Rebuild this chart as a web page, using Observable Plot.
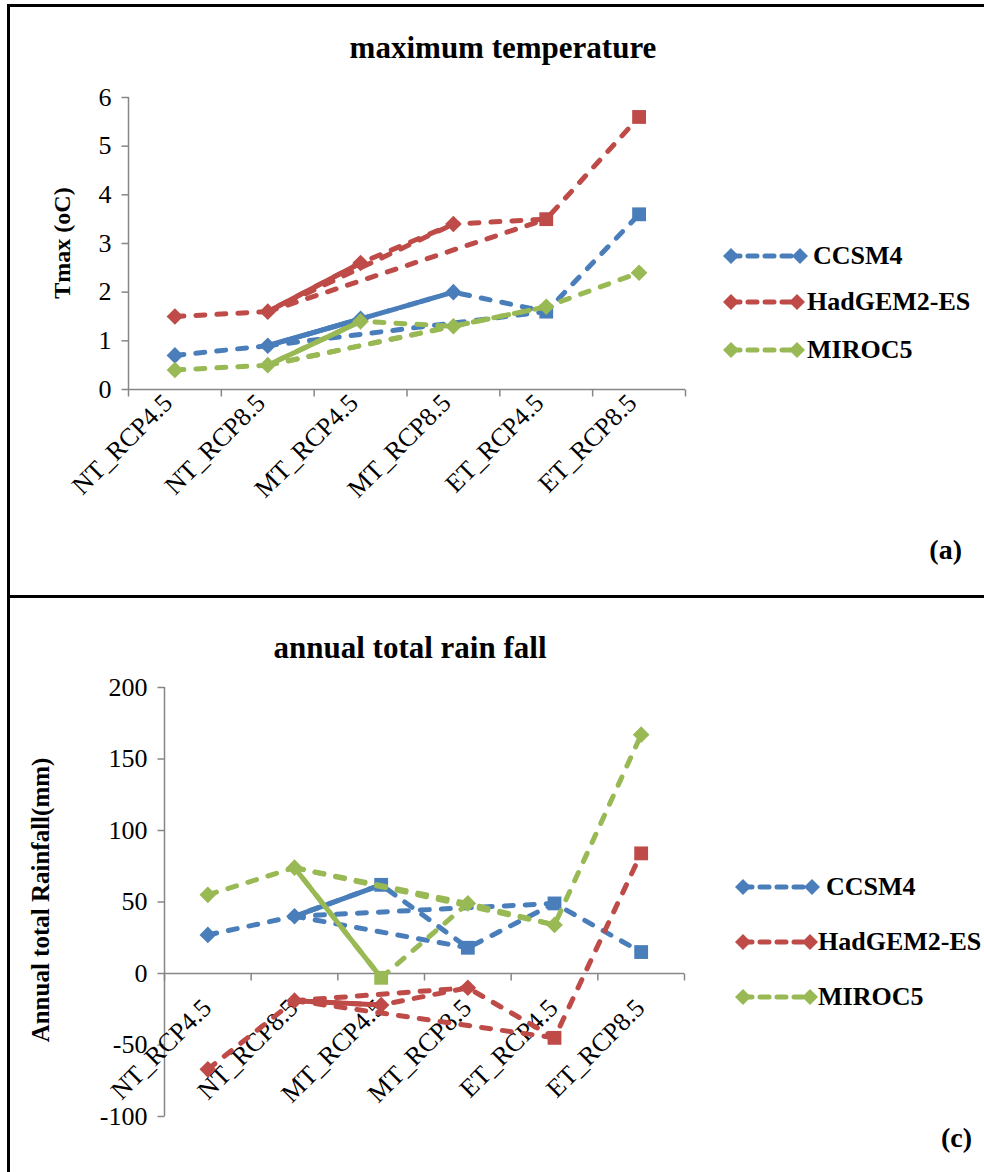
<!DOCTYPE html>
<html>
<head>
<meta charset="utf-8">
<script src="https://cdn.jsdelivr.net/npm/d3@7"></script>
<script src="https://cdn.jsdelivr.net/npm/@observablehq/plot@0.6"></script>
<style>
  body { margin: 0; background: #fff; }
  #fig { position: relative; width: 984px; height: 1172px; overflow: hidden; background: #fff;
         font-family: "Liberation Serif", "Times New Roman", serif; color: #000; }
  .abs { position: absolute; white-space: nowrap; }
  .line { position: absolute; background: #000; }
  .title { font-weight: bold; font-size: 31px; line-height: 1; transform: translate(-50%, -50%); }
  .ylab { font-weight: bold; line-height: 1; transform: translate(-50%, -50%) rotate(-90deg); }
  .legtext { font-weight: bold; font-size: 26px; line-height: 1; transform: translateY(-50%); }
  .panel { font-weight: bold; font-size: 28px; line-height: 1; transform: translate(-100%, -50%); }
  svg.plot { position: absolute; left: 0; }
</style>
</head>
<body>
<div id="fig"></div>
<script>
// ---------------- data ----------------
const categories = ["NT_RCP4.5", "NT_RCP8.5", "MT_RCP4.5", "MT_RCP8.5", "ET_RCP4.5", "ET_RCP8.5"];
const models = ["CCSM4", "HadGEM2-ES", "MIROC5"];
const modelColors = ["#4A7EBB", "#BE4B48", "#98B954"];

// (a) maximum temperature change (oC)
const tmaxCCSM4   = [0.7, 0.9, 1.45, 2.0, 1.6, 3.6];
const tmaxHadGEM2 = [1.5, 1.6, 2.6, 3.4, 3.5, 5.6];
const tmaxMIROC5  = [0.4, 0.5, 1.4, 1.3, 1.7, 2.4];
const tmaxTicks   = [0, 1, 2, 3, 4, 5, 6];

// (c) annual total rainfall change (mm)
const rainCCSM4   = [27, 40, 62, 18, 49, 15];
const rainHadGEM2 = [-67, -19, -22, -10, -45, 84];
const rainMIROC5  = [55, 74, -3, 49, 34, 167];
const rainTicks   = [-100, -50, 0, 50, 100, 150, 200];

// extra connector lines of each series, all starting at NT_RCP8.5
const linkFrom = 1;
const solidLinkTo = [2];
const dashedLinkTo = [3, 4];

// points drawn with a square marker instead of a diamond (category indices)
const tmaxSquares = [[4, 5], [4, 5], []];
const rainSquares = [[2, 3, 4, 5], [4, 5], [2]];

// ---------------- drawing ----------------
const gray = "#868686";
const dash = "9,12";
const lw = 5;

const diamondSym = {draw(ctx, size) { const r = Math.sqrt(size) * 0.62625; ctx.moveTo(0, -r); ctx.lineTo(r, 0); ctx.lineTo(0, r); ctx.lineTo(-r, 0); ctx.closePath(); }};
const squareSym = {draw(ctx, size) { const h = Math.sqrt(size) / 2; ctx.rect(-h, -h, 2 * h, 2 * h); }};
const xTickSym = {draw(ctx) { ctx.moveTo(0, 0); ctx.lineTo(0, 7); }};
const yTickSym = {draw(ctx) { ctx.moveTo(0, 0); ctx.lineTo(-7, 0); }};

function makeChart(cfg) {
  const {values, squares, yDomain, yTicks, height, margins, labelDx, labelDy} = cfg;
  const boundaries = categories.map((c, i) => i - 0.5).concat([categories.length - 0.5]);
  const labels = categories.map((c, i) => ({i, c}));
  const marks = [
    Plot.ruleY([0], {stroke: gray, strokeWidth: 1.5}),
    Plot.ruleX([-0.5], {stroke: gray, strokeWidth: 1.5}),
    Plot.dot(boundaries, {x: d => d, y: () => 0, symbol: xTickSym, fill: "none", stroke: gray, strokeWidth: 1.5}),
    Plot.dot(yTicks, {x: () => -0.5, y: d => d, symbol: yTickSym, fill: "none", stroke: gray, strokeWidth: 1.5}),
    Plot.text(yTicks, {x: () => -0.5, y: d => d, text: d => String(d), textAnchor: "end", dx: -17, fontSize: 26, fill: "black"}),
    Plot.text(labels, {x: "i", y: () => 0, text: "c", rotate: -45, textAnchor: "end", lineAnchor: "bottom", dx: labelDx, dy: labelDy, fontSize: 26, fill: "black"})
  ];
  values.forEach((vals, m) => {
    const color = modelColors[m];
    const rows = vals.map((v, i) => ({i, v}));
    const links = [
      ...dashedLinkTo.map(t => ({x1: linkFrom, y1: vals[linkFrom], x2: t, y2: vals[t], solid: false})),
      ...solidLinkTo.map(t => ({x1: linkFrom, y1: vals[linkFrom], x2: t, y2: vals[t], solid: true}))
    ];
    marks.push(
      Plot.line(rows, {x: "i", y: "v", stroke: color, strokeWidth: lw, strokeDasharray: dash, strokeLinecap: "round", strokeLinejoin: "round"}),
      Plot.link(links.filter(d => !d.solid), {x1: "x1", y1: "y1", x2: "x2", y2: "y2", stroke: color, strokeWidth: lw, strokeDasharray: dash, strokeLinecap: "round"}),
      Plot.link(links.filter(d => d.solid), {x1: "x1", y1: "y1", x2: "x2", y2: "y2", stroke: color, strokeWidth: lw, strokeLinecap: "round"}),
      Plot.dot(rows.filter(d => !squares[m].includes(d.i)), {x: "i", y: "v", symbol: diamondSym, r: 7.5, fill: color, stroke: "none"}),
      Plot.dot(rows.filter(d => squares[m].includes(d.i)), {x: "i", y: "v", symbol: squareSym, r: 7.8, fill: color, stroke: "none"})
    );
  });
  const svg = Plot.plot({
    width: 984, height,
    marginLeft: margins[0], marginRight: margins[1], marginTop: margins[2], marginBottom: margins[3],
    x: {domain: [-0.5, categories.length - 0.5], axis: null},
    y: {domain: yDomain, axis: null},
    style: {fontFamily: "'Liberation Serif', 'Times New Roman', serif", fontSize: "26px", color: "black", background: "transparent", overflow: "visible"},
    marks
  });
  svg.classList.add("plot");
  return svg;
}

const fig = document.getElementById("fig");
function add(cls, text, css) {
  const d = document.createElement("div");
  d.className = cls;
  if (text != null) d.textContent = text;
  Object.assign(d.style, css);
  fig.appendChild(d);
  return d;
}

// frame lines
add("line", null, {left: "7px", top: "4px", width: "3px", height: "1168px"});
add("line", null, {left: "7px", top: "4px", width: "977px", height: "3px"});
add("line", null, {left: "7px", top: "595px", width: "977px", height: "3px"});

// charts
const topChart = makeChart({
  values: [tmaxCCSM4, tmaxHadGEM2, tmaxMIROC5], squares: tmaxSquares,
  yDomain: [0, 6], yTicks: tmaxTicks, height: 597,
  margins: [128, 299, 97, 208], labelDx: -1, labelDy: 15
});
topChart.style.top = "0px";
fig.appendChild(topChart);

const bottomChart = makeChart({
  values: [rainCCSM4, rainHadGEM2, rainMIROC5], squares: rainSquares,
  yDomain: [-100, 200], yTicks: rainTicks, height: 575,
  margins: [164, 300, 90, 56], labelDx: 5, labelDy: 36
});
bottomChart.style.top = "597px";
fig.appendChild(bottomChart);

// titles, axis titles, panel letters
add("abs title", "maximum temperature", {left: "503px", top: "47px"});
add("abs title", "annual total rain fall", {left: "410px", top: "647px"});
add("abs ylab", "Tmax (oC)", {left: "62px", top: "243px", fontSize: "24px"});
add("abs ylab", "Annual total Rainfall(mm)", {left: "40px", top: "900px", fontSize: "25px"});
add("abs panel", "(a)", {left: "962px", top: "550px"});
add("abs panel", "(c)", {left: "972px", top: "1138px"});

// legends
function legend(x0, rows, textX) {
  models.forEach((name, m) => {
    const y = rows[m];
    const ns = "http://www.w3.org/2000/svg";
    const s = document.createElementNS(ns, "svg");
    s.setAttribute("width", 90); s.setAttribute("height", 20);
    s.style.position = "absolute"; s.style.left = (x0 - 9) + "px"; s.style.top = (y - 10) + "px";
    const xr = textX[m][1] - x0 + 9;
    const ln = document.createElementNS(ns, "line");
    ln.setAttribute("x1", 9); ln.setAttribute("x2", xr); ln.setAttribute("y1", 10); ln.setAttribute("y2", 10);
    ln.setAttribute("stroke", modelColors[m]); ln.setAttribute("stroke-width", 5);
    ln.setAttribute("stroke-dasharray", "9,8"); ln.setAttribute("stroke-linecap", "round");
    s.appendChild(ln);
    [9, xr].forEach(cx => {
      const p = document.createElementNS(ns, "path");
      p.setAttribute("d", `M${cx},2L${cx + 8},10L${cx},18L${cx - 8},10Z`);
      p.setAttribute("fill", modelColors[m]);
      s.appendChild(p);
    });
    fig.appendChild(s);
    add("abs legtext", name, {left: textX[m][0] + "px", top: y + "px"});
  });
}
legend(731, [256, 302, 350], [[813, 800], [807, 797], [807, 797]]);
legend(743, [887, 942, 997], [[826, 812], [818, 810], [818, 810]]);
</script>
</body>
</html>
